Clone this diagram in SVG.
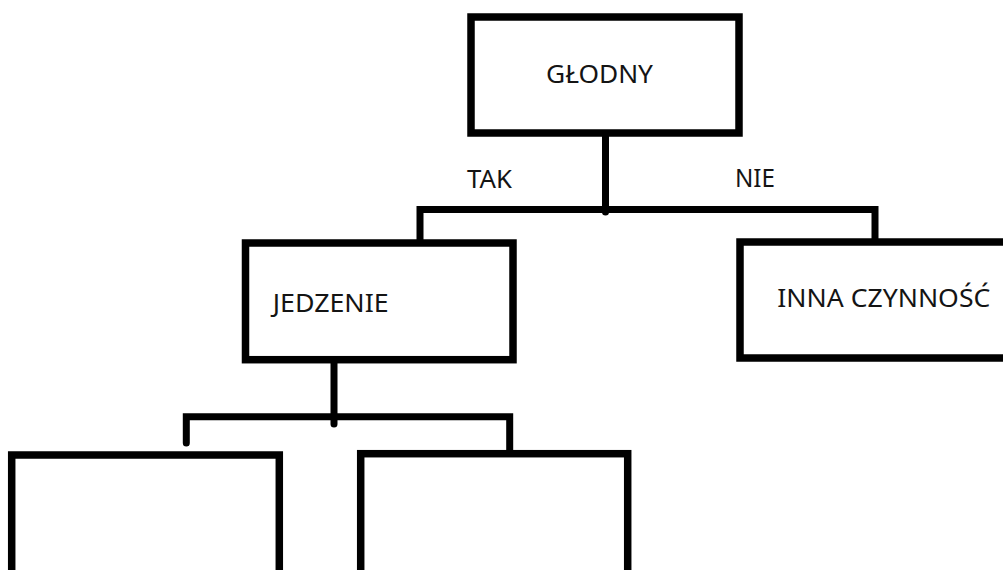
<svg xmlns="http://www.w3.org/2000/svg" width="1003" height="570" viewBox="0 0 1003 570">
  <style>
    .box { fill: #ffffff; stroke: #000000; stroke-width: 7.5; }
    .conn { fill: none; stroke: #000000; stroke-width: 7; stroke-linejoin: miter; stroke-linecap: round; }
    .lbl { font-family: "Noto Sans", "Open Sans", "DejaVu Sans", sans-serif; font-size: 26px; fill: #141414; }
  </style>
  <rect width="1003" height="570" fill="#ffffff"/>
  <g id="connectors">
    <path class="conn" d="M605.5 133 V212"/>
    <path class="conn" d="M420 240 V209.5 H875 V239"/>
    <path class="conn" d="M334 363 V424"/>
    <path class="conn" d="M186.3 443 V416.7 H509.7 V451"/>
  </g>
  <g id="node-glodny">
    <rect class="box" x="471" y="17" width="268" height="116"/>
    <text class="lbl" x="546" y="82.7" textLength="107" lengthAdjust="spacingAndGlyphs">GŁODNY</text>
  </g>
  <g id="label-tak">
    <text class="lbl" x="467" y="188" textLength="45" lengthAdjust="spacingAndGlyphs">TAK</text>
  </g>
  <g id="label-nie">
    <text class="lbl" x="735" y="187.3" textLength="40" lengthAdjust="spacingAndGlyphs">NIE</text>
  </g>
  <g id="node-jedzenie">
    <rect class="box" x="245.5" y="243" width="267.5" height="116.7"/>
    <text class="lbl" x="272.7" y="311.7" textLength="116" lengthAdjust="spacingAndGlyphs">JEDZENIE</text>
  </g>
  <g id="node-inna">
    <rect class="box" x="740" y="242" width="290" height="116"/>
    <text class="lbl" x="777.3" y="307.3" textLength="213" lengthAdjust="spacingAndGlyphs">INNA CZYNNOŚĆ</text>
  </g>
  <g id="node-left">
    <rect class="box" x="11.7" y="455" width="267.6" height="130"/>
  </g>
  <g id="node-right">
    <rect class="box" x="360.7" y="453.7" width="267" height="130"/>
  </g>
</svg>
